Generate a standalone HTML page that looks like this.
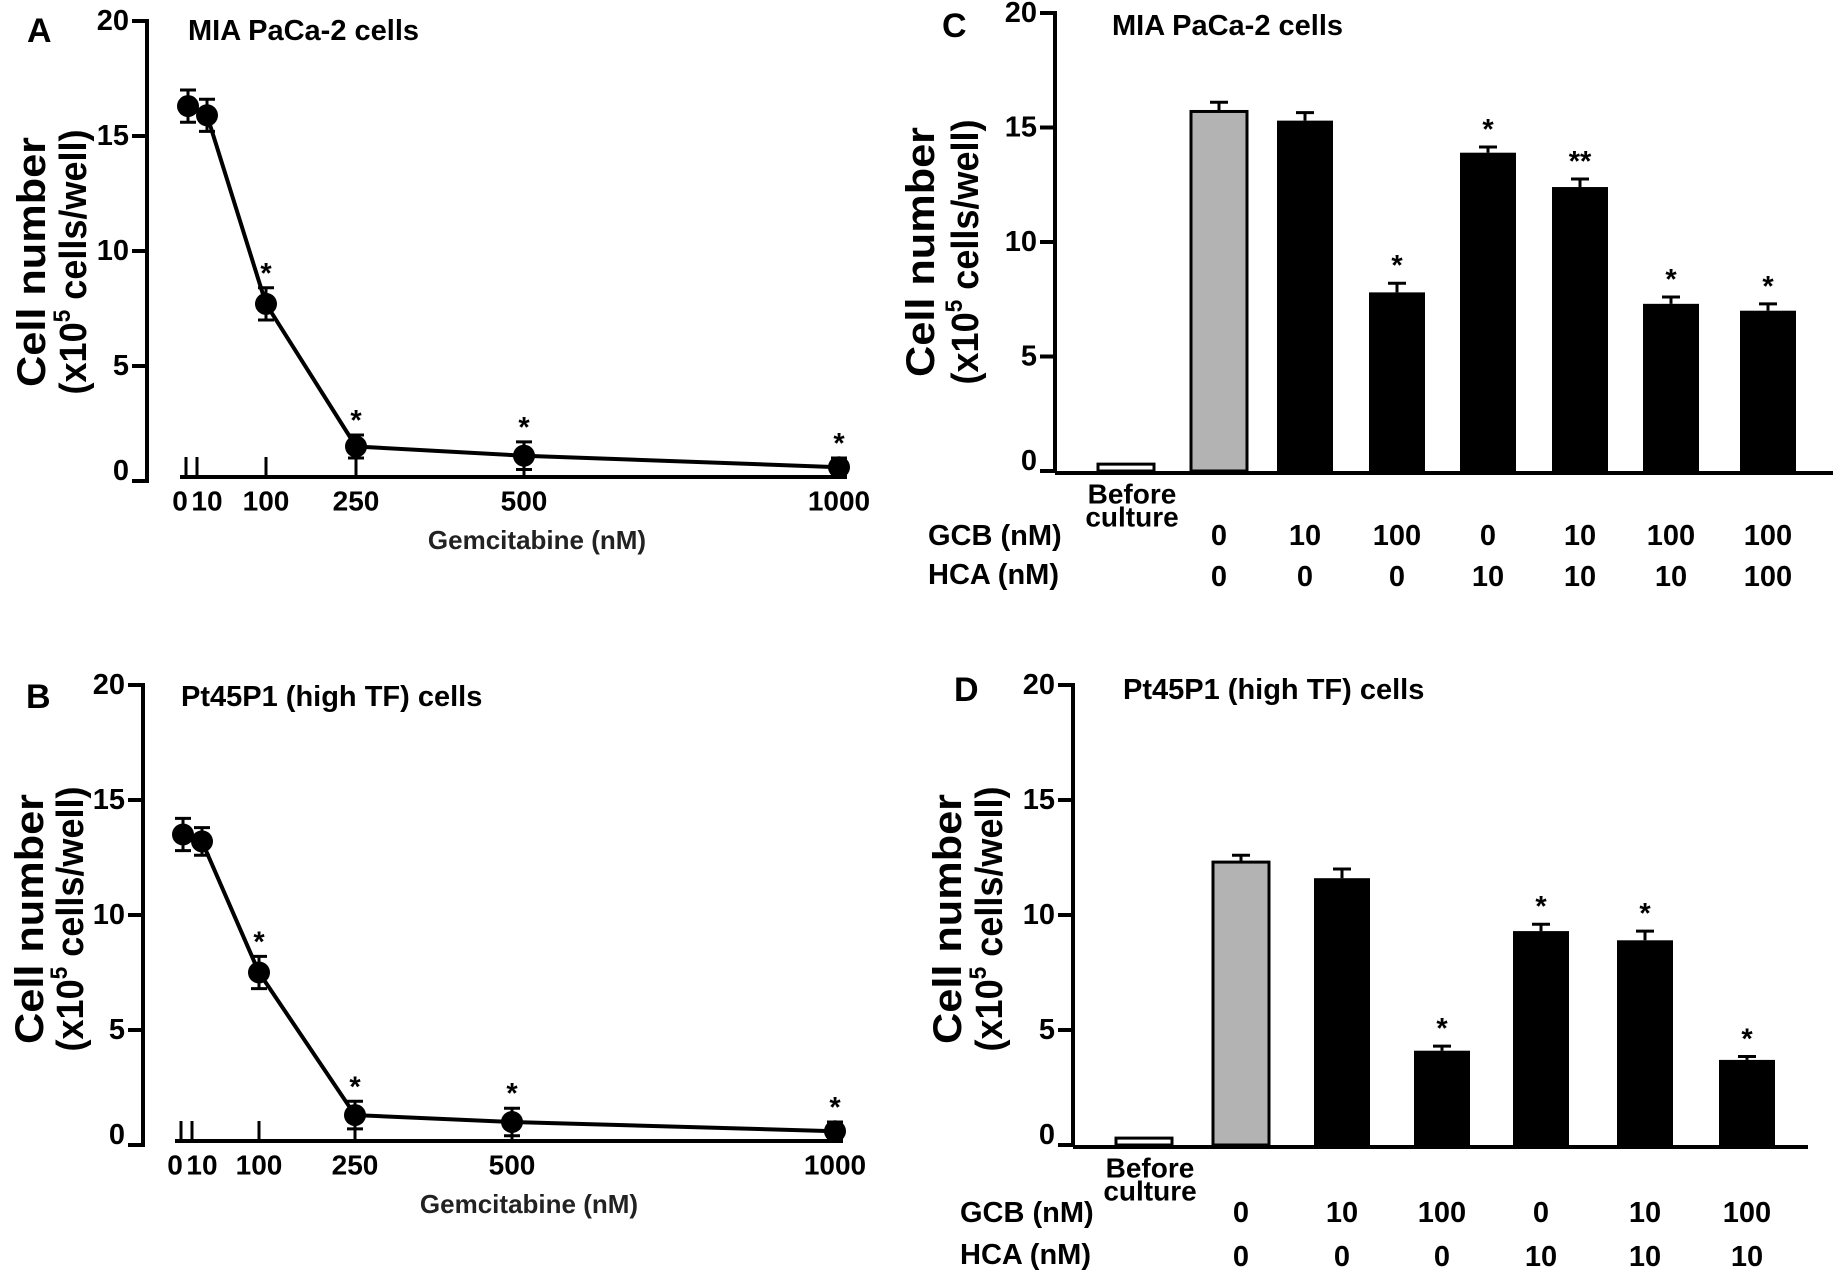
<!DOCTYPE html>
<html><head><meta charset="utf-8">
<style>
html,body{margin:0;padding:0;background:#fff;}
svg{display:block;font-family:"Liberation Sans",Arial,sans-serif;font-weight:bold;}
</style></head>
<body>
<svg id="fig" width="1833" height="1277" viewBox="0 0 1833 1277" xmlns="http://www.w3.org/2000/svg"></svg>
<script>
// ---- Panel A data (MIA PaCa-2, line) ----
const doseA = [0, 10, 100, 250, 500, 1000];
const valuesA = [16.3, 15.9, 7.7, 1.5, 1.1, 0.6];
const errorsA = [0.7, 0.7, 0.7, 0.5, 0.6, 0.4];
const starsA = ["", "", "*", "*", "*", "*"];
// ---- Panel B data (Pt45P1, line) ----
const doseB = [0, 10, 100, 250, 500, 1000];
const valuesB = [13.5, 13.2, 7.5, 1.3, 1.0, 0.6];
const errorsB = [0.7, 0.6, 0.7, 0.6, 0.6, 0.4];
const starsB = ["", "", "*", "*", "*", "*"];
const xTickValues = [0, 10, 100, 250, 500, 1000];
const xTickLabels = ["0", "10", "100", "250", "500", "1000"];
const yTicks = [0, 5, 10, 15, 20];
// ---- Panel C data (bars) ----
const valuesC = [0.3, 15.7, 15.3, 7.8, 13.9, 12.4, 7.3, 7.0];
const errorsC = [0, 0.4, 0.35, 0.4, 0.25, 0.35, 0.3, 0.3];
const starsC = ["", "", "", "*", "*", "**", "*", "*"];
const gcbC = ["0", "10", "100", "0", "10", "100", "100"];
const hcaC = ["0", "0", "0", "10", "10", "10", "100"];
// ---- Panel D data (bars) ----
const valuesD = [0.3, 12.3, 11.6, 4.1, 9.3, 8.9, 3.7];
const errorsD = [0, 0.3, 0.4, 0.2, 0.3, 0.4, 0.15];
const starsD = ["", "", "", "*", "*", "*", "*"];
const gcbD = ["0", "10", "100", "0", "10", "100"];
const hcaD = ["0", "0", "0", "10", "10", "10"];

const NS = "http://www.w3.org/2000/svg";
const svg = document.getElementById("fig");
function mk(tag, attrs, parent, txt) {
  const e = document.createElementNS(NS, tag);
  for (const k in attrs) e.setAttribute(k, attrs[k]);
  if (txt !== undefined) e.textContent = txt;
  (parent || svg).appendChild(e);
  return e;
}
function yTitle(g, cx1, cx2, cy) {
  const t1 = mk("text", {x: 0, y: 0, "font-size": 40, "text-anchor": "middle", "dominant-baseline": "central", transform: `translate(${cx1},${cy}) rotate(-90)`, textLength: 250, lengthAdjust: "spacingAndGlyphs"}, g, "Cell number");
  
  
  const t2 = mk("text", {x: 0, y: 0, "font-size": 38, "text-anchor": "middle", "dominant-baseline": "central", transform: `translate(${cx2},${cy}) rotate(-90)`, textLength: 265, lengthAdjust: "spacingAndGlyphs"}, g);
  
  
  mk("tspan", {}, t2, "(x10");
  mk("tspan", {"font-size": 24, dy: -12}, t2, "5");
  mk("tspan", {dy: 12}, t2, " cells/well)");
}
function yAxis(g, ax, y0, unit, labelRight) {
  const ys = v => y0 - v * unit;
  const a = mk("line", {x1: ax, y1: ys(20) - 2, x2: ax, y2: y0 + 2, stroke: "#000", "stroke-width": 4}, g);
  
  
  yTicks.forEach(v => {
    mk("line", {x1: ax - 15, y1: ys(v), x2: ax, y2: ys(v), stroke: "#000", "stroke-width": 4}, g);
    const t = mk("text", {x: labelRight, y: ys(v) - (v === 0 ? 10 : 0), "font-size": 29, "text-anchor": "end", "dominant-baseline": "central"}, g, String(v));
    
    
  });
  return ys;
}
function linePanel(name, letter, title, dose, vals, errs, stars, o) {
  const g = mk("g", {});
  
  
  const pl = mk("text", {x: o.lx, y: o.ty, "font-size": 34, "dominant-baseline": "central"}, g, letter);
  
  
  const tt = mk("text", {x: o.tx, y: o.ty, "font-size": 29, "dominant-baseline": "central"}, g, title);
  
  
  yTitle(g, o.c1, o.c2, o.cy);
  const ys = yAxis(g, o.ax, o.y0, o.unit, o.ax - 18);
  // piecewise-linear x axis through tick positions
  const xs = v => {
    const d = o.dom, r = o.rng;
    for (let i = 0; i < d.length - 1; i++) {
      if (v <= d[i + 1]) return r[i] + (v - d[i]) / (d[i + 1] - d[i]) * (r[i + 1] - r[i]);
    }
    return r[r.length - 1];
  };
  const xa = mk("line", {x1: xs(0) - 6, y1: o.y0 - 4, x2: xs(1000) + 8, y2: o.y0 - 4, stroke: "#000", "stroke-width": 4}, g);
  
  
  xTickValues.forEach((d, i) => {
    mk("line", {x1: xs(d), y1: o.y0 - 4, x2: xs(d), y2: o.y0 - 24, stroke: "#000", "stroke-width": 3}, g);
    const t = mk("text", {x: xs(d) + (i === 0 ? -6 : i === 1 ? 10 : 0), y: o.y0 + 20, "font-size": 28, "text-anchor": "middle", "dominant-baseline": "central"}, g, xTickLabels[i]);
    
    
  });
  const xt = mk("text", {x: o.gx, y: o.gy, "font-size": 26, fill: "#222", "text-anchor": "middle", "dominant-baseline": "central"}, g, "Gemcitabine (nM)");
  
  
  const px = (d, i) => xs(d) + (i === 0 ? 2 : i === 1 ? 10 : 0);
  const pts = dose.map((d, i) => px(d, i) + "," + ys(vals[i])).join(" ");
  const ln = mk("polyline", {points: pts, fill: "none", stroke: "#000", "stroke-width": 4}, g);
  
  
  dose.forEach((d, i) => {
    const x = px(d, i), y = ys(vals[i]), e = errs[i];
    const eb = mk("path", {d: `M${x},${ys(vals[i] + e)}V${ys(vals[i] - e)}M${x - 8},${ys(vals[i] + e)}H${x + 8}M${x - 8},${ys(vals[i] - e)}H${x + 8}`, stroke: "#000", "stroke-width": 3, fill: "none"}, g);
    
    
    const c = mk("circle", {cx: x, cy: y, r: 11, fill: "#000"}, g);
    
    
    if (stars[i]) {
      const s = mk("text", {x: x, y: ys(vals[i] + e) - 14, "font-size": 29, "text-anchor": "middle", "dominant-baseline": "central"}, g, stars[i]);
      
      
    }
  });
}
function barPanel(name, letter, title, vals, errs, stars, gcb, hca, o) {
  const g = mk("g", {});
  
  
  const pl = mk("text", {x: o.lx, y: o.ty, "font-size": 34, "dominant-baseline": "central"}, g, letter);
  
  
  const tt = mk("text", {x: o.tx, y: o.ty, "font-size": 29, "dominant-baseline": "central"}, g, title);
  
  
  yTitle(g, o.c1, o.c2, o.cy);
  const ys = yAxis(g, o.ax, o.y0, o.unit, o.ax - 18);
  const xa = mk("line", {x1: o.ax, y1: o.y0 + 2, x2: o.xend, y2: o.y0 + 2, stroke: "#000", "stroke-width": 4}, g);
  
  
  const bw = 56;
  vals.forEach((v, i) => {
    const cx = o.centers[i];
    const fill = i === 0 ? "#fff" : i === 1 ? "#b3b3b3" : "#000";
    const r = mk("rect", {x: cx - bw / 2, y: ys(v), width: bw, height: o.y0 - ys(v), fill: fill, stroke: "#000", "stroke-width": i < 2 ? 3 : 0}, g);
    
    
    if (errs[i] > 0) {
      const eb = mk("path", {d: `M${cx},${ys(v)}V${ys(v + errs[i])}M${cx - 9},${ys(v + errs[i])}H${cx + 9}`, stroke: "#000", "stroke-width": 3, fill: "none"}, g);
      
      
    }
    if (stars[i]) {
      const s = mk("text", {x: cx, y: ys(v + errs[i]) - 17, "font-size": 29, "text-anchor": "middle", "dominant-baseline": "central"}, g, stars[i]);
      
      
    }
  });
  const b1 = mk("text", {x: o.centers[0] + 6, y: o.by, "font-size": 28, "text-anchor": "middle", "dominant-baseline": "central"}, g, "Before");
  
  
  const b2 = mk("text", {x: o.centers[0] + 6, y: o.by + 23, "font-size": 28, "text-anchor": "middle", "dominant-baseline": "central"}, g, "culture");
  
  
  const gl = mk("text", {x: o.rx, y: o.gy, "font-size": 29, "dominant-baseline": "central"}, g, "GCB (nM)");
  
  
  const hl = mk("text", {x: o.rx, y: o.hy, "font-size": 29, "dominant-baseline": "central"}, g, "HCA (nM)");
  
  
  gcb.forEach((t, i) => {
    const e = mk("text", {x: o.centers[i + 1], y: o.gy, "font-size": 29, "text-anchor": "middle", "dominant-baseline": "central"}, g, t);
    
    
  });
  hca.forEach((t, i) => {
    const e = mk("text", {x: o.centers[i + 1], y: o.hy + 2, "font-size": 29, "text-anchor": "middle", "dominant-baseline": "central"}, g, t);
    
    
  });
}
linePanel("panel-a", "A", "MIA PaCa-2 cells", doseA, valuesA, errorsA, starsA,
  {lx: 27, tx: 188, ty: 31, c1: 32, c2: 74, cy: 262, ax: 147, y0: 481, unit: 23,
   dom: [0, 10, 100, 250, 500, 1000], rng: [186, 197, 266, 356, 524, 839], gx: 537, gy: 540});
linePanel("panel-b", "B", "Pt45P1 (high TF) cells", doseB, valuesB, errorsB, starsB,
  {lx: 26, tx: 181, ty: 697, c1: 30, c2: 71, cy: 919, ax: 143, y0: 1145, unit: 23,
   dom: [0, 10, 100, 250, 500, 1000], rng: [181, 192, 259, 355, 512, 835], gx: 529, gy: 1204});
barPanel("panel-c", "C", "MIA PaCa-2 cells", valuesC, errorsC, starsC, gcbC, hcaC,
  {lx: 942, tx: 1112, ty: 26, c1: 921, c2: 966, cy: 252, ax: 1055, y0: 471, unit: 22.9, xend: 1833,
   centers: [1126, 1219, 1305, 1397, 1488, 1580, 1671, 1768], by: 494, rx: 928, gy: 536, hy: 575});
barPanel("panel-d", "D", "Pt45P1 (high TF) cells", valuesD, errorsD, starsD, gcbD, hcaD,
  {lx: 954, tx: 1123, ty: 690, c1: 948, c2: 990, cy: 919, ax: 1073, y0: 1145, unit: 23, xend: 1808,
   centers: [1144, 1241, 1342, 1442, 1541, 1645, 1747], by: 1168, rx: 960, gy: 1213, hy: 1255});
</script>
</body></html>
